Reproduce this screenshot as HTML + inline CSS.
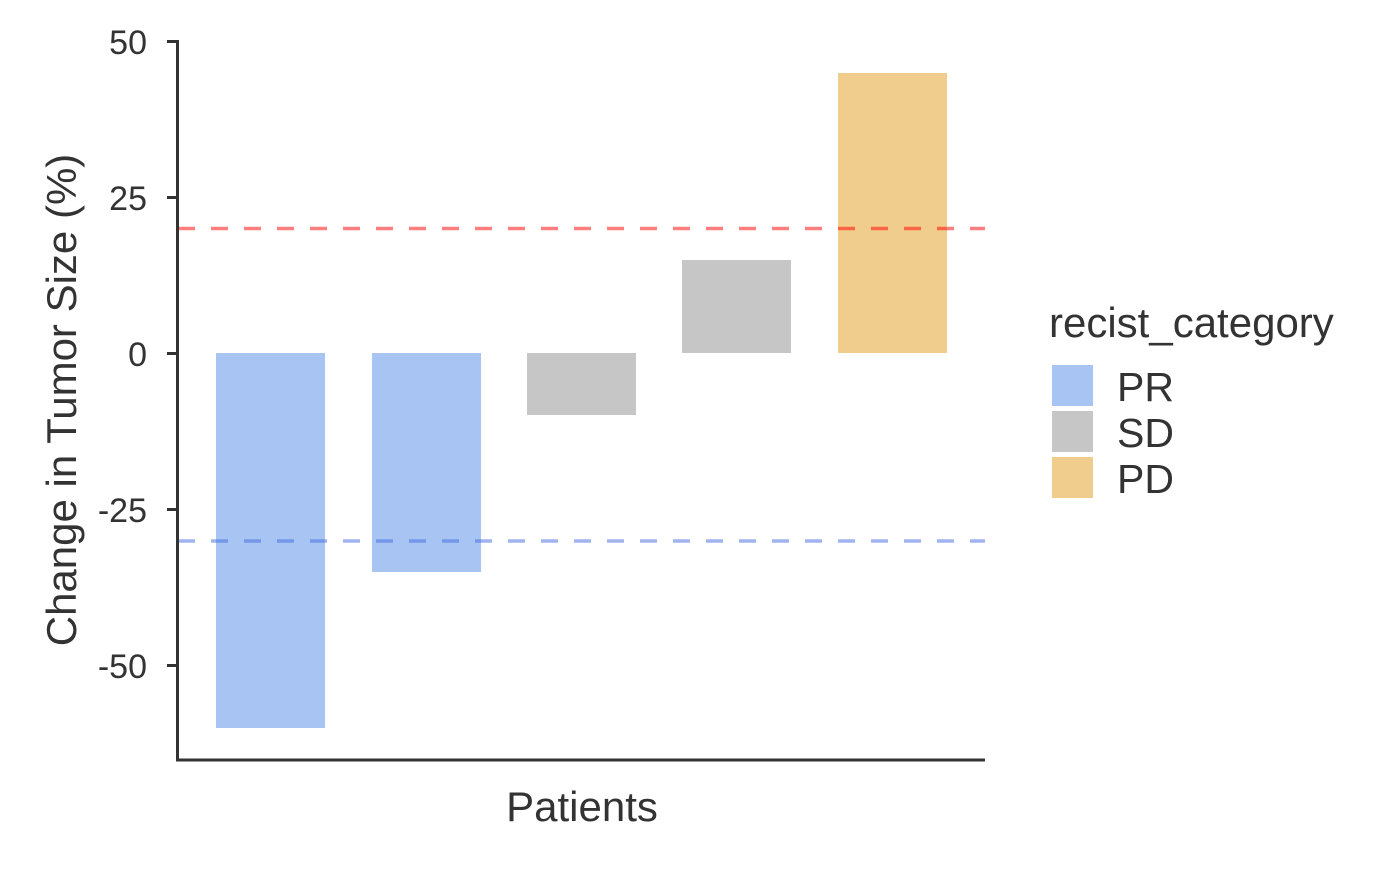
<!DOCTYPE html>
<html><head><meta charset="utf-8"><style>
html,body{margin:0;padding:0;background:#fff;}
</style></head><body>
<svg width="1400" height="866" viewBox="0 0 1400 866" xmlns="http://www.w3.org/2000/svg" font-family="Liberation Sans, Arial, sans-serif" fill="#333">
<rect width="1400" height="866" fill="#fff"/>
<rect x="216" y="353" width="109" height="375" fill="#a7c4f2"/>
<rect x="372" y="353" width="109" height="219" fill="#a7c4f2"/>
<rect x="527" y="353" width="109" height="62" fill="#c6c6c6"/>
<rect x="682" y="260" width="109" height="93" fill="#c6c6c6"/>
<rect x="838" y="73" width="109" height="280" fill="#f0cd8c"/>
<line x1="178" y1="228.5" x2="985" y2="228.5" stroke="#ff0000" stroke-opacity="0.5" stroke-width="3.5" stroke-dasharray="17,16"/>
<line x1="178" y1="541" x2="985" y2="541" stroke="#4169e1" stroke-opacity="0.5" stroke-width="3.5" stroke-dasharray="17,16"/>
<line x1="177.5" y1="40" x2="177.5" y2="761" stroke="#333" stroke-width="3"/>
<line x1="176" y1="760" x2="985" y2="760" stroke="#333" stroke-width="3"/>
<g stroke="#333" stroke-width="3">
<line x1="167" y1="41.5" x2="178" y2="41.5"/>
<line x1="167" y1="197.5" x2="178" y2="197.5"/>
<line x1="167" y1="353.5" x2="178" y2="353.5"/>
<line x1="167" y1="509.5" x2="178" y2="509.5"/>
<line x1="167" y1="665.5" x2="178" y2="665.5"/>
</g>
<g font-size="34" text-anchor="end" fill="#333">
<text x="147" y="54">50</text>
<text x="147" y="210">25</text>
<text x="147" y="366">0</text>
<text x="147" y="522">-25</text>
<text x="147" y="678">-50</text>
</g>
<text x="582" y="821" font-size="42" text-anchor="middle">Patients</text>
<text transform="translate(76,400) rotate(-90)" font-size="42" text-anchor="middle">Change in Tumor Size (%)</text>
<text x="1049" y="337" font-size="42">recist_category</text>
<rect x="1052" y="365" width="41" height="41" fill="#a7c4f2"/>
<rect x="1052" y="411" width="41" height="41" fill="#c6c6c6"/>
<rect x="1052" y="457" width="41" height="41" fill="#f0cd8c"/>
<g font-size="41">
<text x="1117" y="401">PR</text>
<text x="1117" y="447">SD</text>
<text x="1117" y="493">PD</text>
</g>
</svg>
</body></html>
